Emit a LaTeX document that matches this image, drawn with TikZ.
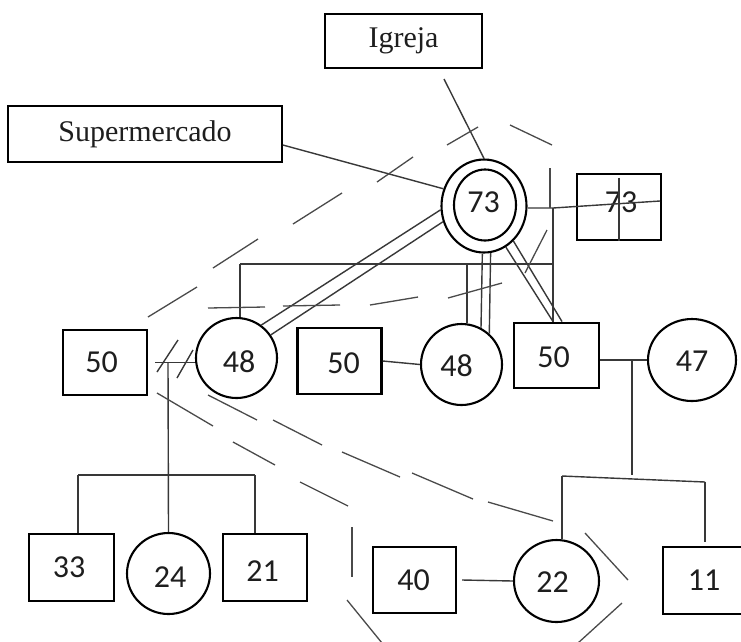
\documentclass[tikz,border=0pt]{standalone}
\usepackage{fontspec}
\setmainfont{Liberation Serif}
\newfontfamily\carlitofam{Carlito}
\usetikzlibrary{shapes.geometric,calc}

\definecolor{inkcol}{HTML}{1E1E1E}
\definecolor{linecol}{HTML}{383838}
\definecolor{dashcol}{HTML}{4A4A4A}

\newcommand\pnumfont{\carlitofam\fontsize{32}{32}\selectfont}
\newcommand\pplacefont{\fontsize{30}{30}\selectfont}
% set a label off-centre inside its symbol: right shift, raise, text
\newcommand\offtext[3]{\kern#1\raisebox{#2}[\height][\depth]{#3}\kern-#1}

\tikzset{
  man/.style={draw=black, line width=2.4pt, minimum width=84pt, minimum height=65.5pt,
              inner sep=0pt, font=\pnumfont, text=inkcol},
  woman/.style={ellipse, draw=black, line width=2.1pt, inner sep=0pt,
                font=\pnumfont, text=inkcol},
  place/.style={draw=black, line width=1.7pt, inner sep=0pt, font=\pplacefont, text=inkcol},
  tie/.style={draw=linecol, line width=1.4pt},
  hh/.style={draw=dashcol, line width=1.3pt}
}

\begin{document}
\begin{tikzpicture}[x=1pt,y=-1pt]
\useasboundingbox (0,0) rectangle (741,641);
\fill[white] (0,0) rectangle (741,641);
\clip (0,0) rectangle (741,641);

% community places
\node[place, minimum width=157pt, minimum height=54pt] (igr) at (403.5,41) {Igreja};
\node[place, minimum width=274pt, minimum height=56pt] (sup) at (145,134) {Supermercado};

% first generation
\node[woman, minimum width=85pt, minimum height=93pt] (c73o) at (484,206) {};
\node[woman, minimum width=62pt, minimum height=71pt] (c73i) at (485,205) {\offtext{-1.5pt}{2.5pt}{73}};
\node[man, minimum width=83.5pt] (b73) at (619,207) {\offtext{2pt}{5pt}{73}};

% second generation
\node[man] (b50l) at (105,362.5) {\offtext{-3.5pt}{0pt}{50}};
\node[woman, minimum width=81pt, minimum height=80pt] (c48l) at (236.5,358) {\offtext{2.5pt}{-4pt}{48}};
\node[man] (b50m) at (339.5,361) {\offtext{4pt}{-2pt}{50}};
\node[woman, minimum width=81pt, minimum height=81pt] (c48m) at (461.5,364.5) {\offtext{-5pt}{-1.5pt}{48}};
\node[man, minimum width=85pt] (b50r) at (556.5,355.5) {\offtext{-3pt}{-2pt}{50}};
\node[woman, minimum width=88pt, minimum height=82pt] (c47) at (692,360) {\offtext{0pt}{-1pt}{47}};

% third generation
\node[man, minimum width=85pt, minimum height=67pt] (b33) at (71.5,567.5) {\offtext{-2.5pt}{0pt}{33}};
\node[woman, minimum width=83pt, minimum height=81pt] (c24) at (168.5,573.5) {\offtext{1.5pt}{-4pt}{24}};
\node[man, minimum width=84pt, minimum height=67pt] (b21) at (265,567.5) {\offtext{-2.5pt}{-3.5pt}{21}};
\node[man, minimum width=83pt, minimum height=66pt] (b40) at (414.5,580) {\offtext{-1pt}{0pt}{40}};
\node[woman, minimum width=85pt, minimum height=82pt] (c22) at (556.5,581) {\offtext{-4pt}{-1pt}{22}};
\node[man, minimum width=84pt, minimum height=67pt] (b11) at (705,580.5) {\offtext{-1pt}{0pt}{11}};

% helper points on the family lines
\coordinate (igrTail) at (444,79);
\coordinate (spine) at (553,208);
\coordinate (crossEnd) at (660,201);
\coordinate (sibL) at (240,264);
\coordinate (sibR) at (553,264);
\coordinate (sibM) at (467,264);
\coordinate (kidsL) at (168,362);
\coordinate (rowL) at (78,475);
\coordinate (rowR) at (255,475);
\coordinate (kidsR) at (632,360);
\coordinate (kidsRb) at (632,475);
\coordinate (row2L) at (562,476);
\coordinate (row2R) at (705,482);

% links to the community
\draw[tie] ($(sup.east)+(0,11)$) -- (c73o.157);
\draw[tie] (igrTail) -- (c73o.north);

% couple 73 and the crossed box
\draw[tie] (c73o.east |- spine) -- (spine) -- (crossEnd);
\draw[tie] ($(b73.south)+(0,-63)$) -- (b73.south);

% children of the 73 couple
\draw[tie] (spine) -- (spine |- b50r.north);
\draw[tie] (sibL) -- (sibR);
\draw[tie] (sibL) -- (sibL |- c48l.north);
\draw[tie] (sibM) -- (sibM |- c48m.north);

% close ties (double lines)
\draw[tie] (c73o.185) -- (c48l.53);
\draw[tie] (c73o.201) -- (c48l.34);
\draw[tie] (c73o.-92) -- (c48m.62);
\draw[tie] (c73o.-82) -- (c48m.48);
\draw[tie] (c73o.-62) -- ([xshift=-3.5pt]b50r.north);
\draw[tie] (c73o.-50) -- ([xshift=5.5pt]b50r.north);

% couple 50/48 (separated) and their children
\draw[tie] ($(b50l.east)+(7,0)$) -- (c48l.west |- b50l.east);
\draw[tie] (157,372) -- (178,340);
\draw[tie] (177,378) -- (193,350);
\draw[tie] (kidsL) -- (c24.north);
\draw[tie] (rowL) -- (rowR);
\draw[tie] (rowL) -- (rowL |- b33.north);
\draw[tie] (rowR) -- (rowR |- b21.north);

% couple 50/48 in the middle
\draw[tie] (b50m.east) -- (c48m.west);

% couple 50/47 and their children
\draw[tie] (b50r.east |- c47.west) -- (c47.west);
\draw[tie] (kidsR) -- (kidsRb);
\draw[tie] (row2L) -- (row2R);
\draw[tie] (row2L) -- (row2L |- c22.north);
\draw[tie] (row2R) -- ($(b11.north)+(0,-4)$);

% couple 40/22
\draw[tie] ($(b40.east)+(5,0)$) -- (c22.west);

% household boundary, upper part
\draw[hh] (148,317) -- (197,287);
\draw[hh] (213,268) -- (258,239);
\draw[hh] (293,224) -- (342,193);
\draw[hh] (377,182) -- (413,157);
\draw[hh] (447,145) -- (478,127);
\draw[hh] (510,125) -- (552,145);
\draw[hh] (550,168) -- (550,208);
\draw[hh] (547,230) -- (525,273);
\draw[hh] (502,283) -- (448,298);
\draw[hh] (418,297) -- (370,305);
\draw[hh] (340,305) -- (283,306);
\draw[hh] (265,307) -- (208,308);

% household boundary, lower part
\draw[hh] (157,393) -- (213,426);
\draw[hh] (233,442) -- (275,465);
\draw[hh] (300,482) -- (348,506);
\draw[hh] (352,527) -- (352,577);
\draw[hh] (347,600) -- (382,643);
\draw[hh] (208,395) -- (257,420);
\draw[hh] (273,420) -- (322,445);
\draw[hh] (342,452) -- (400,477);
\draw[hh] (412,473) -- (473,499);
\draw[hh] (488,502) -- (553,521);
\draw[hh] (585,533) -- (628,580);
\draw[hh] (622,603) -- (578,643);
\end{tikzpicture}
\end{document}
